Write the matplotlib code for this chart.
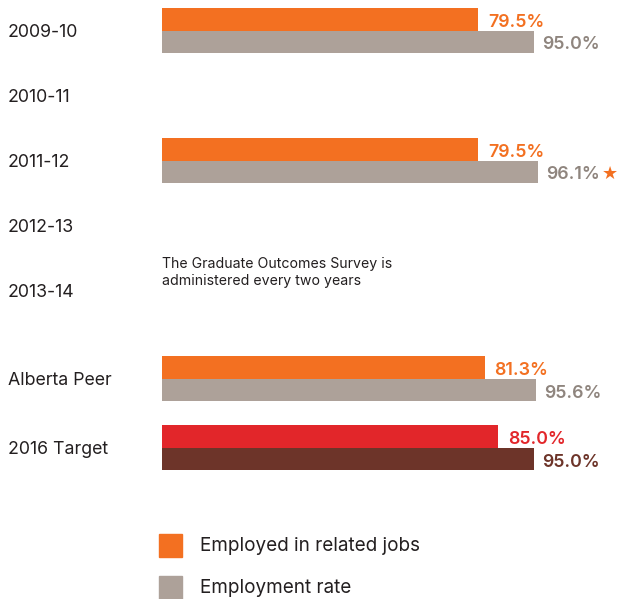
import numpy as np
import matplotlib.pyplot as plt
from matplotlib.patches import Rectangle

periods = ["2009-10", "2010-11", "2011-12", "2012-13", "2013-14", "Alberta Peer", "2016 Target"]
related_jobs = [79.5, np.nan, 79.5, np.nan, np.nan, 81.3, 85.0]
employment_rate = [95.0, np.nan, 96.1, np.nan, np.nan, 95.6, 95.0]
note_text = "The Graduate Outcomes Survey is\nadministered every two years"
legend_labels = ["Employed in related jobs", "Employment rate"]

ORANGE = "#F37021"
GREY = "#ADA199"
GREY_TXT = "#8F857E"
RED = "#E2262A"
BROWN = "#6D3429"
INK = "#231F20"

W, H = 619, 599
BASE = -8.3          # value where the bars start
PX = 3.6             # pixels per percentage point
X0 = 162             # pixel column where bars start
ROW = 65.0           # pixels between rows
BAR_H = 22.5 / ROW

plt.rcParams["font.family"] = ["Inter", "DejaVu Sans"]

fig = plt.figure(figsize=(W / 100, H / 100), dpi=100)
ax = fig.add_axes([0, 0, 1, 1])
ax.axis("off")
ax.set_xlim(BASE - X0 / PX, BASE + (W - X0) / PX)
ax.set_ylim((H - 30.5) / ROW, -30.5 / ROW)

# extra gap before the comparison rows
pos = np.array([0, 1, 2, 3, 4, 5.36, 6.42])

for i, name in enumerate(periods):
    ax.text(8 / W, pos[i] + 0.03, name, transform=ax.get_yaxis_transform(),
            ha="left", va="center", fontsize=12.8, color=INK)

    if np.isnan(related_jobs[i]):
        continue
    target = name == "2016 Target"
    c1, c2 = (RED, BROWN) if target else (ORANGE, GREY)
    t1, t2 = (RED, BROWN) if target else (ORANGE, GREY_TXT)

    y1 = pos[i] - BAR_H / 2
    y2 = pos[i] + BAR_H / 2
    ax.barh(y1, related_jobs[i] - BASE, left=BASE, height=BAR_H, color=c1)
    ax.barh(y2, employment_rate[i] - BASE, left=BASE, height=BAR_H, color=c2)

    ax.annotate(f"{related_jobs[i]:.1f}%", (related_jobs[i], y1), xytext=(10, -3),
                textcoords="offset pixels", ha="left", va="center",
                fontsize=12.8, fontweight="semibold", color=t1)
    ax.annotate(f"{employment_rate[i]:.1f}%", (employment_rate[i], y2), xytext=(8, -3),
                textcoords="offset pixels", ha="left", va="center",
                fontsize=12.8, fontweight="semibold", color=t2)
    if name == "2011-12":
        ax.annotate("\u2605", (employment_rate[i], y2), xytext=(64, -2),
                    textcoords="offset pixels", ha="left", va="center",
                    fontsize=13, color=ORANGE, family="DejaVu Sans")

ax.text(BASE, 3.72, note_text, ha="left", va="center", fontsize=10.2,
        color=INK, linespacing=1.3)

# legend drawn as plain squares + labels
for k, (lab, col) in enumerate(zip(legend_labels, [ORANGE, GREY])):
    top = 534 + 42 * k
    fig.patches.append(Rectangle((159 / W, 1 - (top + 23) / H), 23 / W, 23 / H,
                                 transform=fig.transFigure, color=col))
    fig.text(200 / W, 1 - (top + 12) / H, lab, ha="left", va="center",
             fontsize=13.6, color=INK)

fig.savefig("out.png", dpi=100, facecolor="white")
